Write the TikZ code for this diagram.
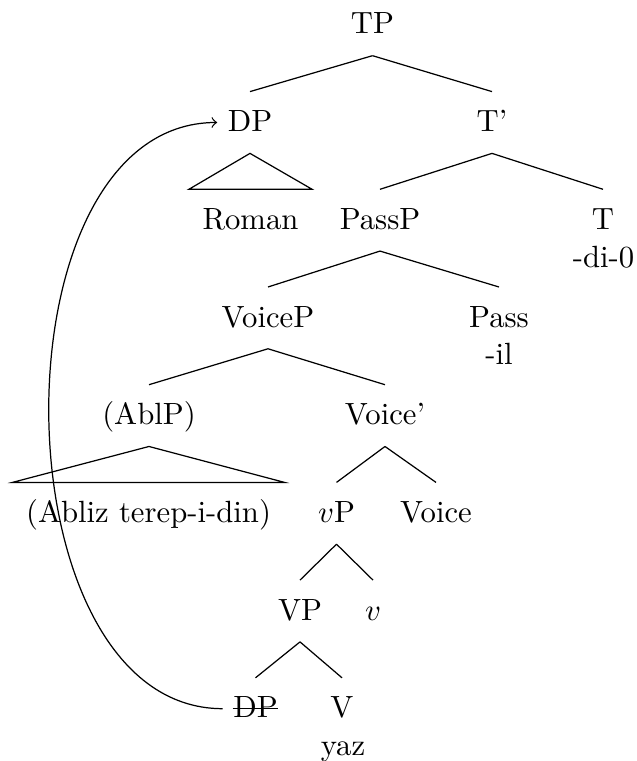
\documentclass[tikz,border=0pt]{standalone}
\usetikzlibrary{calc}
\begin{document}
\begin{tikzpicture}[x=0.3257pt,y=-0.3257pt,
  tn/.style={anchor=base,inner xsep=3.26pt,inner ysep=5.86pt,text height=7pt,text depth=1pt},
  tm/.style={anchor=base,inner sep=0pt},
  edge/.style={line width=0.4pt},
  roof/.style={line width=0.4pt}]
\useasboundingbox (0,0) rectangle (636,761);
\node[tn] (tp) at (372.5,34) {TP};
\node[tn] (dp) at (250,131.7) {DP};
\node[tn] (tbar) at (492,131.7) {T'};
\node[tn] (roman) at (250.5,229.4) {Roman};
\node[tn] (passp) at (380,229.4) {PassP};
\node[tn] (t) at (603,229.4) {T};
\node[tm] (tmorph) at (603.5,267) {-di-0};
\node[tn] (voicep) at (268,327.1) {VoiceP};
\node[tn] (pass) at (499,327.1) {Pass};
\node[tm] (ilm) at (499,364.6) {-il};
\node[tn] (ablp) at (149,424.8) {(AblP)};
\node[tn] (voicebar) at (385,424.8) {Voice'};
\node[tn] (abliz) at (148.5,522.5) {(Abliz terep-i-din)};
\node[tn] (vp) at (336.5,522.5) {$v$P};
\node[tn] (voice) at (436,522.5) {Voice};
\node[tn] (vvp) at (300,620.2) {VP};
\node[tn] (vhead) at (373,620.2) {$v$};
\node[tn] (dps) at (255.5,717.9) {DP};
\node[tn] (v) at (342,717.9) {V};
\node[tm] (yaz) at (343,755.5) {yaz};
% edges
\draw[edge] (tp.south) -- (dp.north);
\draw[edge] (tp.south) -- (tbar.north);
\draw[roof] (dp.south) -- ($(roman.north west)+(-3,0)$) -- ($(roman.north east)+(3,0)$) -- cycle;
\draw[edge] (tbar.south) -- (passp.north);
\draw[edge] (tbar.south) -- (t.north);
\draw[edge] (passp.south) -- (voicep.north);
\draw[edge] (passp.south) -- (pass.north);
\draw[edge] (voicep.south) -- (ablp.north);
\draw[edge] (voicep.south) -- (voicebar.north);
\draw[roof] (ablp.south) -- ($(abliz.north west)+(-3,0)$) -- ($(abliz.north east)+(3,0)$) -- cycle;
\draw[edge] (voicebar.south) -- (vp.north);
\draw[edge] (voicebar.south) -- (voice.north);
\draw[edge] (vp.south) -- (vvp.north);
\draw[edge] (vp.south) -- (vhead.north);
\draw[edge] (vvp.south) -- (dps.north);
\draw[edge] (vvp.south) -- (v.north);
% strike-through
\draw[line width=0.4pt] ($(dps.west)+(10,0)$) -- ($(dps.east)+(-10,0)$);
% movement arrow
\draw[->,line width=0.4pt] (dps.west) .. controls +(-228,0) and +(-228,0) .. (dp.west);
\end{tikzpicture}
\end{document}
